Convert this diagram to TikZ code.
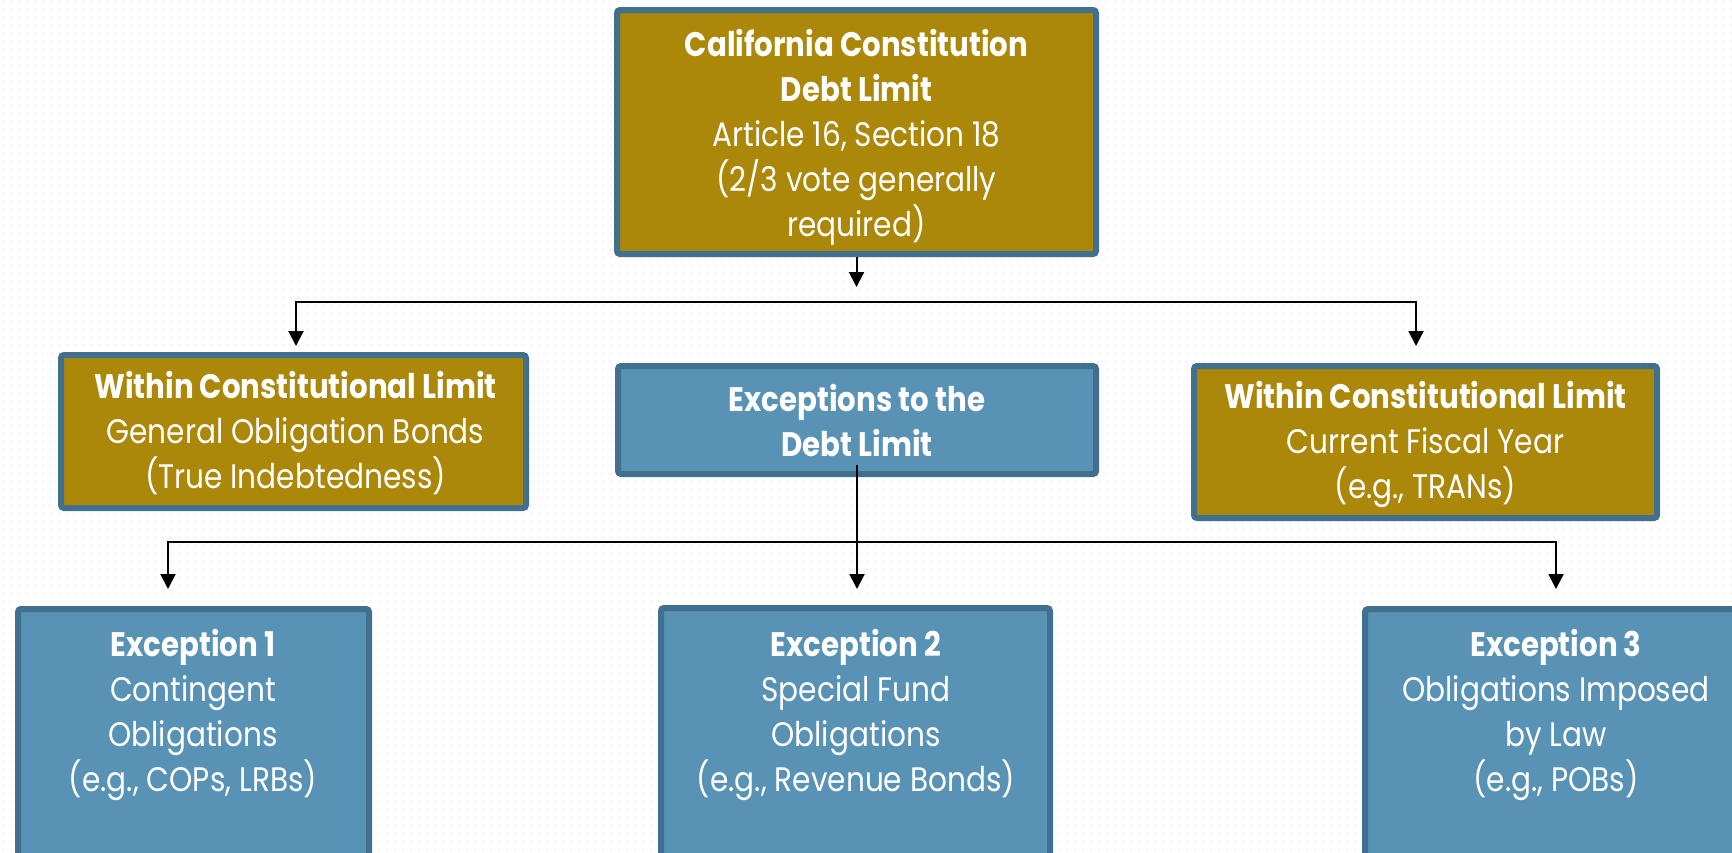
\documentclass[tikz,border=0pt]{standalone}
\usepackage{fontspec}
\setmainfont{Poppins}[UprightFeatures={FakeStretch=0.87}, BoldFeatures={FakeStretch=0.86}]
\usetikzlibrary{arrows.meta,patterns,calc}
\pgfdeclarepatternformonly{mydots}{\pgfpointorigin}{\pgfqpoint{4pt}{4pt}}{\pgfqpoint{4pt}{4pt}}{\pgfpathrectangle{\pgfqpoint{1.5pt}{1.5pt}}{\pgfqpoint{1pt}{1pt}}\pgfusepath{fill}}
\definecolor{gold}{HTML}{AB870A}
\definecolor{slate}{HTML}{40708D}
\definecolor{steel}{HTML}{5892B5}
\begin{document}
\begin{tikzpicture}[x=0.5pt,y=-0.5pt,
 basebox/.style={draw=slate, line width=3pt, rounded corners=1.5pt, inner sep=0pt},
 goldbox/.style={basebox, fill=gold},
 bluebox/.style={basebox, fill=steel},
 lbl/.style={text=white, align=center, inner sep=0pt, font=\fontsize{17}{22.5}\selectfont},
 conn/.style={line width=1pt, draw=black},
 arr/.style={conn, -{Triangle[width=7.5pt,length=7.5pt]}}]
\useasboundingbox (0,0) rectangle (1732,852);
\fill[white] (0,0) rectangle (1732,852);
\fill[pattern=mydots, pattern color=black!8] (0,0) rectangle (1732,852);
\clip (0,0) rectangle (1732,852);

% boxes
\node[goldbox, minimum width=239.5pt, minimum height=122pt] (T) at (856.5,132) {};
\node[goldbox, minimum width=232.5pt, minimum height=76.5pt] (L) at (293.5,431.5) {};
\node[bluebox, minimum width=239pt, minimum height=54pt] (M) at (857,420) {};
\node[goldbox, minimum width=231.5pt, minimum height=76pt] (R) at (1425.5,442) {};
\node[bluebox, minimum width=175.5pt, minimum height=144pt] (E1) at (193.5,753) {};
\node[bluebox, minimum width=194.5pt, minimum height=144.5pt] (E2) at (855.5,752.5) {};
\node[bluebox, minimum width=191pt, minimum height=144pt] (E3) at (1556,753) {};

% texts
\node[lbl] (Tt) at ($(T.center)+(0,5)$) {\textbf{California Constitution}\\\textbf{Debt Limit}\\Article 16, Section 18\\(2/3 vote generally\\required)};
\node[lbl] (Lt) at ($(L.center)+(2,2)$) {\textbf{Within Constitutional Limit}\\General Obligation Bonds\\(True Indebtedness)};
\node[lbl] (Mt) at ($(M.center)+(0,1)$) {\textbf{Exceptions to the}\\\textbf{Debt Limit}};
\node[lbl] (Rt) at ($(R.center)+(0,2)$) {\textbf{Within Constitutional Limit}\\Current Fiscal Year\\(e.g., TRANs)};
\node[lbl, anchor=north] (E1t) at (193,629) {\textbf{Exception 1}\\Contingent\\Obligations\\(e.g., COPs, LRBs)};
\node[lbl, anchor=north] (E2t) at (856,629) {\textbf{Exception 2}\\Special Fund\\Obligations\\(e.g., Revenue Bonds)};
\node[lbl, anchor=north] (E3t) at (1556,629) {\textbf{Exception 3}\\Obligations Imposed\\by Law\\(e.g., POBs)};

% connectors
\coordinate (t1) at (857,287);
\coordinate (h1l) at (296,302);
\coordinate (h1r) at (1416,302);
\coordinate (m0) at ($(M.south)+(0,-12)$);
\coordinate (h2l) at (168,542);
\coordinate (h2r) at (1556,542);
\draw[arr] (T.south) -- (T.south |- t1);
\draw[conn, line cap=rect] (h1l) -- (h1r);
\draw[arr, shorten >=3pt] (h1l) -- (h1l |- L.north);
\draw[arr, shorten >=8.5pt] (h1r) -- (h1r |- R.north);
\draw[conn, line cap=rect] (h2l) -- (h2r);
\draw[arr, shorten >=8pt] (m0) -- (m0 |- E2.north);
\draw[arr, shorten >=8.5pt] (h2l) -- (h2l |- E1.north);
\draw[arr, shorten >=8.5pt] (h2r) -- (h2r |- E3.north);
\end{tikzpicture}
\end{document}
